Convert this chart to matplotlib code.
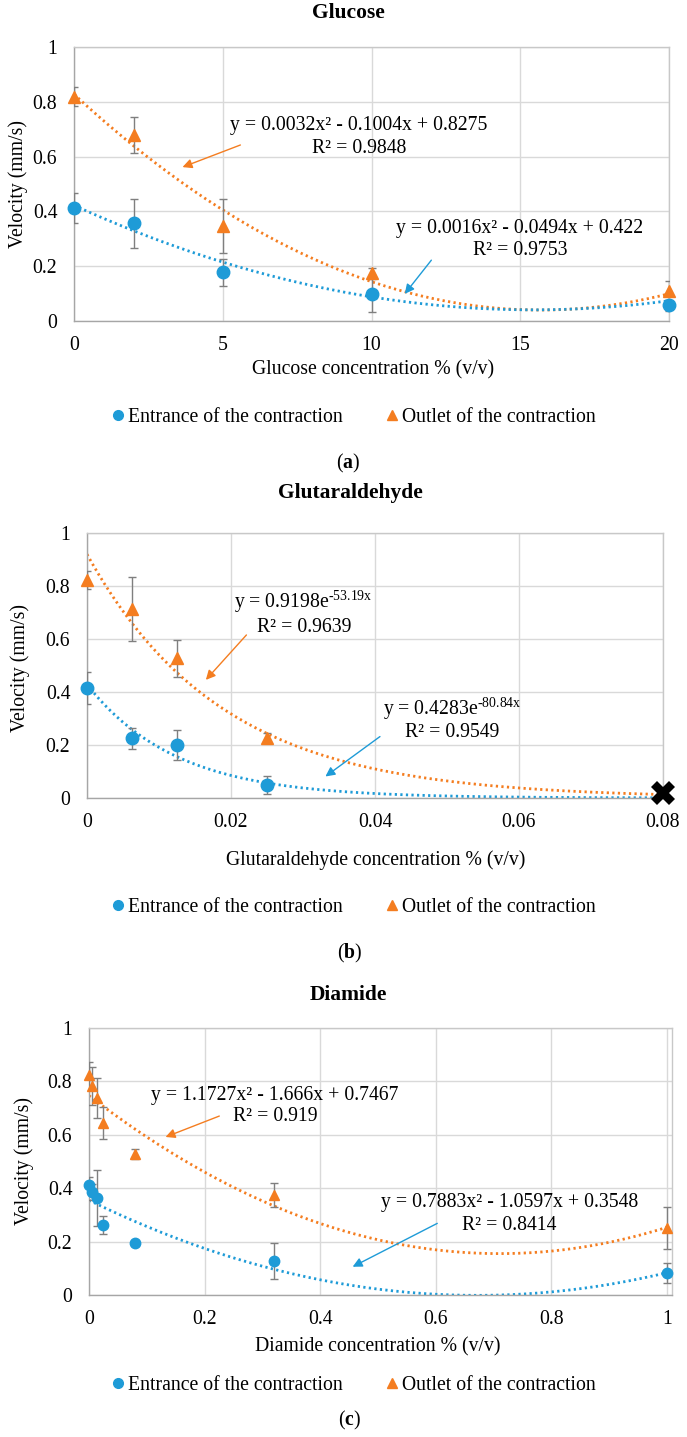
import numpy as np
import matplotlib
matplotlib.use("Agg")
import matplotlib.pyplot as plt
from matplotlib.lines import Line2D

plt.rcParams['font.family'] = ['Liberation Serif', 'DejaVu Serif']
plt.rcParams['mathtext.fontset'] = 'custom'
plt.rcParams['mathtext.rm'] = 'Liberation Serif'
plt.rcParams['mathtext.it'] = 'Liberation Serif:italic'
plt.rcParams['mathtext.bf'] = 'Liberation Serif:bold'

BLUE = '#1E9BD7'
ORANGE = '#F47D20'
W, H = 687, 1437
FS = 14.2

# ---- data (a) glucose ----
glu_x = [0, 2, 5, 10, 20]
glu_in = [0.412, 0.357, 0.178, 0.100, 0.058]
glu_in_err = [0.055, 0.09, 0.05, 0.068, 0.02]
glu_out = [0.818, 0.679, 0.347, 0.175, 0.110]
glu_out_err = [0.035, 0.066, 0.10, 0.02, 0.035]
glu_fit_in = [0.0016, -0.0494, 0.422]
glu_fit_out = [0.0032, -0.1004, 0.8275]

# ---- data (b) glutaraldehyde ----
gta_x = [0, 0.00625, 0.0125, 0.025]
gta_in = [0.415, 0.226, 0.200, 0.049]
gta_in_err = [0.06, 0.04, 0.057, 0.035]
gta_out = [0.823, 0.713, 0.528, 0.226]
gta_out_err = [0.035, 0.12, 0.07, 0.02]
gta_fit_in = [0.4283, -80.84]
gta_fit_out = [0.9198, -53.19]
gta_dead = [0.08, 0.018]

# ---- data (c) diamide ----
dia_x = [0, 0.006, 0.013, 0.025, 0.08, 0.32, 1.0]
dia_in = [0.412, 0.386, 0.363, 0.262, 0.195, 0.127, 0.082]
dia_in_err = [0.03, 0.03, 0.105, 0.034, 0.01, 0.068, 0.038]
dia_out = [0.824, 0.783, 0.738, 0.644, 0.528, 0.374, 0.251]
dia_out_err = [0.05, 0.07, 0.075, 0.06, 0.02, 0.045, 0.08]
dia_fit_in = [0.7883, -1.0597, 0.3548]
dia_fit_out = [1.1727, -1.666, 0.7467]

fig = plt.figure(figsize=(W / 100, H / 100), dpi=100)


def fy(py):
    return 1 - py / H


def fx(px):
    return px / W


def make_axes(l, r, t, b):
    return fig.add_axes([fx(l), fy(b), fx(r) - fx(l), fy(t) - fy(b)])


def style(ax, xlim, xticks, xlabels):
    ax.set_xlim(*xlim)
    ax.set_ylim(0, 1)
    ax.set_xticks(xticks)
    ax.set_xticklabels(xlabels)
    ax.set_yticks([0, 0.2, 0.4, 0.6, 0.8, 1])
    ax.set_yticklabels(['0', '0.2', '0.4', '0.6', '0.8', '1'])
    ax.tick_params(length=0, labelsize=FS, pad=11)
    ax.tick_params(axis='y', pad=12)
    ax.grid(True, color='#D9D9D9', linewidth=1)
    ax.set_axisbelow(True)
    for s in ax.spines.values():
        s.set_color('#C8C8C8')
        s.set_linewidth(1)
    ax.spines['left'].set_color('#A6A6A6')
    ax.spines['bottom'].set_color('#A6A6A6')


def points(ax, x, yin, ein, yout, eout, ms):
    ax.errorbar(x, yin, yerr=ein, fmt='none', ecolor='#7F7F7F', elinewidth=1, capsize=3, zorder=3)
    ax.errorbar(x, yout, yerr=eout, fmt='none', ecolor='#7F7F7F', elinewidth=1, capsize=3, zorder=3)
    ax.plot(x, yin, 'o', color=BLUE, markersize=ms, zorder=4, clip_on=False)
    ax.plot(x, yout, '^', color=ORANGE, markersize=ms, zorder=4, clip_on=False)


def trend(ax, xs, ys, color):
    ax.plot(xs, ys, color=color, linewidth=2, linestyle=(0, (0.8, 1.2)), zorder=2)


def note(ax, x, y1, y2, line1, line2, tail, head, color):
    ax.text(x, y1, line1, ha='center', va='center', fontsize=FS)
    ax.text(x, y2, line2, ha='center', va='center', fontsize=FS)
    ax.annotate('', xy=head, xytext=tail,
                arrowprops=dict(arrowstyle='-|>', color=color, lw=1, mutation_scale=14))


def legend(py):
    h = [Line2D([], [], marker='o', color=BLUE, linestyle='none', markersize=7),
         Line2D([], [], marker='^', color=ORANGE, linestyle='none', markersize=7)]
    fig.legend(h, ['Entrance of the contraction', 'Outlet of the contraction'],
               loc='center', bbox_to_anchor=(fx(352), fy(py)), ncol=2, frameon=False,
               fontsize=FS, handletextpad=0.0, columnspacing=2.0, handlelength=1.0)


# ---------- (a) ----------
ax = make_axes(74, 669, 47, 321)
style(ax, (0, 20), [0, 5, 10, 15, 20], ['0', '5', '10', '15', '20'])
xs = np.linspace(0, 20, 200)
trend(ax, xs, np.polyval(glu_fit_out, xs), ORANGE)
trend(ax, xs, np.polyval(glu_fit_in, xs), BLUE)
points(ax, glu_x, glu_in, glu_in_err, glu_out, glu_out_err, 9)
note(ax, 9.58, 0.712, 0.631, 'y = 0.0032x² - 0.1004x + 0.8275', 'R² = 0.9848',
     (5.68, 0.646), (3.56, 0.558), ORANGE)
note(ax, 14.99, 0.339, 0.259, 'y = 0.0016x² - 0.0494x + 0.422', 'R² = 0.9753',
     (12.07, 0.23), (11.06, 0.091), BLUE)
fig.text(fx(348), fy(13), 'Glucose', ha='center', va='center', fontsize=15.5, fontweight='bold')
fig.text(fx(18), fy(184), 'Velocity (mm/s)', ha='center', va='center', rotation=90, fontsize=FS)
fig.text(fx(373), fy(370), 'Glucose concentration % (v/v)', ha='center', va='center', fontsize=FS)
legend(417)
fig.text(fx(348), fy(463), r'($\mathbf{a}$)', ha='center', va='center', fontsize=FS)

# ---------- (b) ----------
ax = make_axes(87, 663, 533, 798)
style(ax, (0, 0.08), [0, 0.02, 0.04, 0.06, 0.08], ['0', '0.02', '0.04', '0.06', '0.08'])
xs = np.linspace(0, 0.08, 200)
trend(ax, xs, gta_fit_out[0] * np.exp(gta_fit_out[1] * xs), ORANGE)
trend(ax, xs, gta_fit_in[0] * np.exp(gta_fit_in[1] * xs), BLUE)
points(ax, gta_x, gta_in, gta_in_err, gta_out, gta_out_err, 9)
ax.plot([gta_dead[0]], [gta_dead[1]], marker='X', color='black', markersize=17,
        markeredgewidth=0, zorder=6, clip_on=False)
note(ax, 0.0301, 0.74, 0.645, r'y = 0.9198e$^{\text{-53.19x}}$', 'R² = 0.9639',
     (0.0224, 0.623), (0.01625, 0.438), ORANGE)
note(ax, 0.0507, 0.336, 0.249, r'y = 0.4283e$^{\text{-80.84x}}$', 'R² = 0.9549',
     (0.041, 0.238), (0.0328, 0.075), BLUE)
fig.text(fx(350), fy(493), 'Glutaraldehyde', ha='center', va='center', fontsize=15.5, fontweight='bold')
fig.text(fx(20), fy(668), 'Velocity (mm/s)', ha='center', va='center', rotation=90, fontsize=FS)
fig.text(fx(376), fy(860), 'Glutaraldehyde concentration % (v/v)', ha='center', va='center', fontsize=FS)
legend(907)
fig.text(fx(350), fy(953), r'($\mathbf{b}$)', ha='center', va='center', fontsize=FS)

# ---------- (c) ----------
ax = make_axes(89, 672, 1028, 1295)
style(ax, (0, 1.009), [0, 0.2, 0.4, 0.6, 0.8, 1.0], ['0', '0.2', '0.4', '0.6', '0.8', '1'])
xs = np.linspace(0, 1, 200)
trend(ax, xs, np.polyval(dia_fit_out, xs), ORANGE)
trend(ax, xs, np.polyval(dia_fit_in, xs), BLUE)
points(ax, dia_x, dia_in, dia_in_err, dia_out, dia_out_err, 7.5)
note(ax, 0.322, 0.749, 0.667, 'y = 1.1727x² - 1.666x + 0.7467', 'R² = 0.919',
     (0.23, 0.674), (0.128, 0.588), ORANGE)
note(ax, 0.728, 0.345, 0.262, 'y = 0.7883x² - 1.0597x + 0.3548', 'R² = 0.8414',
     (0.607, 0.273), (0.452, 0.101), BLUE)
fig.text(fx(348), fy(995), 'Diamide', ha='center', va='center', fontsize=15.5, fontweight='bold')
fig.text(fx(24), fy(1161), 'Velocity (mm/s)', ha='center', va='center', rotation=90, fontsize=FS)
fig.text(fx(378), fy(1347), 'Diamide concentration % (v/v)', ha='center', va='center', fontsize=FS)
legend(1385)
fig.text(fx(350), fy(1420), r'($\mathbf{c}$)', ha='center', va='center', fontsize=FS)

fig.savefig('out.png', dpi=100)
